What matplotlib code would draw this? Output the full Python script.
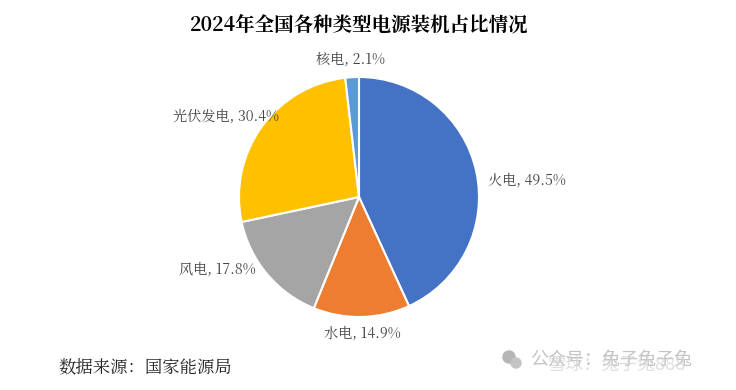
#!/usr/bin/env python3

import matplotlib
matplotlib.use("Agg")
import matplotlib.pyplot as plt
from matplotlib.patches import Circle

plt.rcParams["font.family"] = ["Noto Sans CJK SC", "DejaVu Sans"]

# ----------------------------
# Data
# ----------------------------
categories = ["火电", "水电", "风电", "光伏发电", "核电"]
shares = [49.5, 14.9, 17.8, 30.4, 2.1]
colors = ["#4472C4", "#ED7D31", "#A5A5A5", "#FFC000", "#5B9BD5"]

W, H = 736, 390
serif = ["Noto Serif CJK SC", "Noto Sans CJK SC", "Liberation Serif"]

fig = plt.figure(figsize=(W / 100, H / 100), dpi=100, facecolor="white")
ax = fig.add_axes([0, 0, 1, 1])

wedges, _ = ax.pie(
    shares,
    colors=colors,
    center=(359, H - 197),
    radius=120,
    startangle=90,
    counterclock=False,
    frame=True,
    wedgeprops={"edgecolor": "white", "linewidth": 1.5},
)
ax.set_xlim(0, W)
ax.set_ylim(0, H)
ax.set_aspect("equal")
ax.axis("off")

label_pos = [(527, 181), (362, 334), (217, 270), (226, 117), (350, 60)]
for name, val, (x, y) in zip(categories, shares, label_pos):
    ax.text(x, H - y, f"{name}, {val}%", ha="center", va="center", fontsize=10.2,
            family=serif, color="#444444")

ax.text(359, H - 25, "2024年全国各种类型电源装机占比情况", ha="center", va="center",
        fontsize=14, fontweight="bold", family=serif, color="black")
ax.text(58, H - 369, "数据来源：国家能源局", ha="left", va="center", fontsize=12.5,
        family=serif, color="#222222")

# watermark: chat icon and two overlapping lines
ax.add_patch(Circle((509, H - 357), 6, color="#b5b5b5"))
ax.add_patch(Circle((516, H - 363), 5, color="#c4c4c4"))
ax.text(530, H - 360, "公众号：兔子兔子兔", ha="left", va="center", fontsize=13, color="#c4c4c4")
ax.text(548, H - 365, "雪球：兔子兔888", ha="left", va="center", fontsize=13, color="#d2d2d2", alpha=0.7)

fig.savefig("out.png", dpi=100)
